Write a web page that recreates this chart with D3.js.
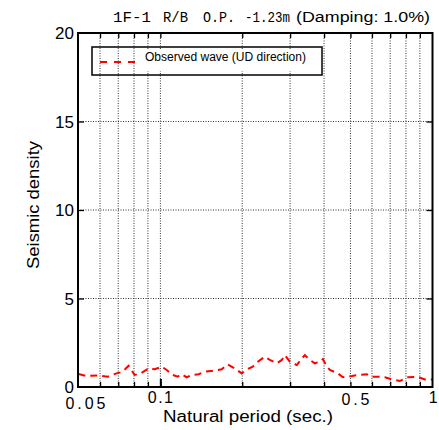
<!DOCTYPE html>
<html><head><meta charset="utf-8">
<script src="https://cdn.jsdelivr.net/npm/d3@7"></script>
<style>body{margin:0;background:#fff}svg{display:block;font-family:"Liberation Sans",Arial,sans-serif}</style>
</head><body><svg id="c" width="439" height="430"></svg>
<script>
const periods = [0.0500,0.0535,0.0598,0.0640,0.0690,0.0726,0.0764,0.0804,0.0846,0.0906,0.0953,0.1011,0.1055,0.1110,0.1158,0.1198,0.1250,0.1304,0.1384,0.1456,0.1558,0.1681,0.1769,0.1877,0.1992,0.2061,0.2187,0.2282,0.2421,0.2526,0.2681,0.2797,0.2869,0.2993,0.3176,0.3314,0.3399,0.3545,0.3699,0.3861,0.3960,0.4097,0.4202,0.4496,0.4690,0.5062,0.5325,0.5748,0.5998,0.6311,0.6697,0.7106,0.7605,0.8138,0.8784,0.9399,1.0000];
const values  = [0.73,0.62,0.65,0.58,0.77,0.86,1.20,0.68,0.77,1.05,1.00,1.15,0.96,0.68,0.58,0.72,0.55,0.68,0.72,0.86,0.92,1.00,1.28,1.05,0.77,0.96,1.15,1.43,1.71,1.53,1.34,1.53,1.80,1.43,1.24,1.62,1.80,1.53,1.34,1.43,1.58,1.15,0.96,0.77,0.55,0.62,0.68,0.72,0.58,0.58,0.55,0.43,0.34,0.55,0.58,0.43,0.43];
const xGrid = [0.06,0.07,0.08,0.09,0.1,0.2,0.3,0.4,0.5,0.6,0.7,0.8,0.9];
const xTickLabels = [0.05,0.1,0.5,1];
const xTickText = ["0.05","0.1","0.5","1"];
const yTicks = [0,5,10,15,20];
const seriesName = "Observed wave (UD direction)";
const titleParts = ["1F-1","R/B","O.P.","-1.23m","(Damping: 1.0%)"];
const xTitle = "Natural period (sec.)";
const yTitle = "Seismic density";

const svg = d3.select("#c");
const L=78, R=432.5, T=33, B=387;
const x = d3.scaleLog().domain([0.05,1]).range([78.5,432.3]);
const y = d3.scaleLinear().domain([0,20]).range([B,T]);

// grid
const g = svg.append("g");
g.selectAll(".vg").data(xGrid).join("line")
  .attr("x1",d=>x(d)).attr("x2",d=>x(d)).attr("y1",T).attr("y2",B)
  .attr("stroke","#333").attr("stroke-width",1).attr("stroke-dasharray","1,1.5");
g.selectAll(".hg").data(yTicks.filter(d=>d>0&&d<20)).join("line")
  .attr("x1",L).attr("x2",R).attr("y1",d=>y(d)).attr("y2",d=>y(d))
  .attr("stroke","#333").attr("stroke-width",1).attr("stroke-dasharray","1,1.5");

// ticks via axes
const tickAll = xGrid;
svg.append("g").attr("transform",`translate(0,${B})`)
  .call(d3.axisBottom(x).tickValues(tickAll).tickSize(-5).tickFormat(""))
  .call(a=>{a.select(".domain").remove();a.selectAll("line").attr("stroke","#000").attr("stroke-width",1.3);});
svg.append("g").attr("transform",`translate(0,${B})`)
  .call(d3.axisBottom(x).tickValues([0.1]).tickSize(-8).tickFormat(""))
  .call(a=>{a.select(".domain").remove();a.selectAll("line").attr("stroke","#000").attr("stroke-width",2);});
svg.append("g").attr("transform",`translate(0,${T})`)
  .call(d3.axisTop(x).tickValues(tickAll).tickSize(-5).tickFormat(""))
  .call(a=>{a.select(".domain").remove();a.selectAll("line").attr("stroke","#000").attr("stroke-width",1.3);});
svg.append("g").attr("transform",`translate(${L},0)`)
  .call(d3.axisLeft(y).tickValues([5,10,15]).tickSize(-6).tickFormat(""))
  .call(a=>{a.select(".domain").remove();a.selectAll("line").attr("stroke","#000").attr("stroke-width",1.3);});
svg.append("g").attr("transform",`translate(${R},0)`)
  .call(d3.axisRight(y).tickValues([5,10,15]).tickSize(-6).tickFormat(""))
  .call(a=>{a.select(".domain").remove();a.selectAll("line").attr("stroke","#000").attr("stroke-width",1.3);});

// legend
svg.append("line").attr("x1",100).attr("x2",141).attr("y1",62).attr("y2",62)
  .attr("stroke","#ff0000").attr("stroke-width",2).attr("stroke-dasharray","7,7");
svg.append("rect").attr("x",144).attr("y",49).attr("width",164).attr("height",22).attr("fill","#fff");
svg.append("text").attr("x",145).attr("y",61).attr("font-size",12)
  .attr("textLength",161).attr("lengthAdjust","spacingAndGlyphs").text(seriesName);
svg.append("rect").attr("x",92).attr("y",47).attr("width",230).attr("height",28)
  .attr("fill","none").attr("stroke","#000").attr("stroke-width",1.5);

// data line
const line = d3.line().x((d,i)=>x(periods[i])).y(d=>y(d));
svg.append("path").datum(values).attr("d",line).attr("fill","none")
  .attr("stroke","#ff0000").attr("stroke-width",2).attr("stroke-dasharray","7,5");

// frame
svg.append("rect").attr("x",L).attr("y",T).attr("width",R-L).attr("height",B-T)
  .attr("fill","none").attr("stroke","#000").attr("stroke-width",2);

// y labels
svg.selectAll(".yl").data(yTicks).join("text")
  .attr("x",74).attr("y",d=>y(d)).attr("dy","0.36em").attr("text-anchor","end")
  .attr("font-size",17).text(d=>d);

// x labels
const xdx = {0.05:7, 0.1:0, 0.5:5, 1:1};
const xby = {0.05:409, 0.1:403, 0.5:405, 1:403};
const xlen = {0.05:40, 0.1:25, 0.5:28, 1:0};
svg.selectAll(".xl").data(xTickLabels).join("text")
  .attr("x",d=>x(d)+xdx[d]).attr("y",d=>xby[d]).attr("text-anchor","middle")
  .attr("font-size",16)
  .each(function(d,i){const t=d3.select(this).text(xTickText[i]); if(xlen[d]) t.attr("textLength",xlen[d]).attr("lengthAdjust","spacing");});

// titles
svg.append("text").attr("x",248).attr("y",422).attr("text-anchor","middle").attr("font-size",16)
  .attr("textLength",170).attr("lengthAdjust","spacingAndGlyphs").text(xTitle);
svg.append("text").attr("transform","translate(39,205) rotate(-90)").attr("text-anchor","middle")
  .attr("font-size",16).attr("textLength",128).attr("lengthAdjust","spacingAndGlyphs").text(yTitle);

const tx=[113,163,203,245,296], tl=[38,25,32,45,134];
svg.selectAll(".tt").data(titleParts).join("text")
  .attr("x",(d,i)=>tx[i]).attr("y",22)
  .style("font-family",(d,i)=>i<4?"'Liberation Mono','DejaVu Sans Mono',monospace":"'Liberation Sans',Arial,sans-serif")
  .attr("font-size",14)
  .attr("textLength",(d,i)=>tl[i]).attr("lengthAdjust","spacingAndGlyphs").text(d=>d);
</script></body></html>
